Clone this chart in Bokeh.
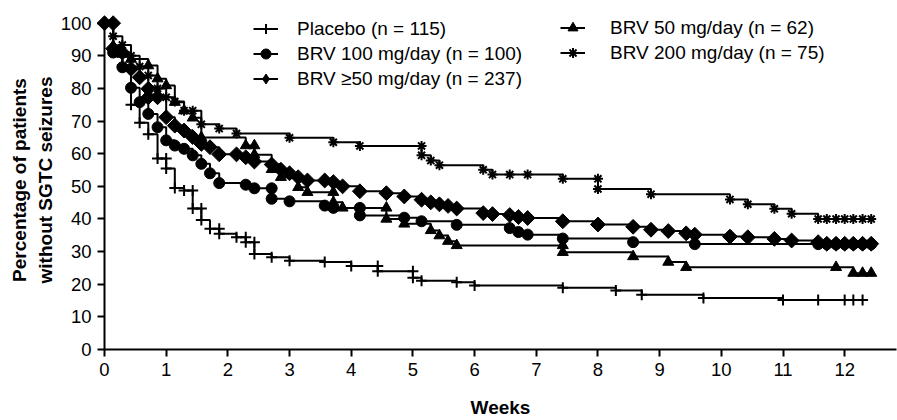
import numpy as np
from bokeh.plotting import figure
from bokeh.models import Range1d, FixedTicker, Legend, LegendItem
from bokeh.embed import file_html
from bokeh.resources import INLINE

FONT = "Liberation Sans"

# ---------------- data (weeks, % of patients without SGTC seizures) ----------------
week_ticks = list(range(0, 13))
pct_ticks = list(range(0, 101, 10))

# Placebo
plc_t = [0, 0.14, 0.29, 0.43, 0.57, 0.71, 0.86, 1.0, 1.14, 1.29, 1.43, 1.57, 1.71, 1.86,
         2.14, 2.29, 2.43, 2.71, 3.0, 3.57, 4.0, 4.43, 5.0, 5.14, 5.71, 6.0, 7.43, 8.29,
         8.71, 9.71, 11.0, 12.31]
plc_s = [100, 92, 87, 75, 69.5, 66, 58.5, 55.5, 49.5, 48.7, 43.2, 39.7, 37.0, 35.5,
         34.4, 32.9, 29.3, 28.3, 27.2, 26.8, 25.6, 24.0, 22.0, 21.1, 20.6, 19.6, 18.9, 18.1,
         16.8, 15.8, 15.2, 15.2]
plc_ct = [1.0, 1.43, 1.57, 1.86, 2.29, 2.43, 4.43, 5.0, 11.57, 12.0, 12.14, 12.29]
plc_cs = [58.5, 48.7, 43.2, 37.0, 34.4, 32.9, 25.6, 24.0, 15.2, 15.2, 15.2, 15.2]

# BRV 100 mg/day
b100_t = [0, 0.14, 0.29, 0.43, 0.57, 0.71, 0.86, 1.0, 1.14, 1.29, 1.43, 1.57, 1.71, 1.86,
          2.29, 2.43, 2.71, 3.0, 3.57, 3.71, 4.14, 4.86, 5.14, 5.71, 6.57, 6.71, 6.86, 7.43,
          8.57, 9.57, 12.43]
b100_s = [100, 91, 86.5, 80.2, 75.8, 72.2, 68.1, 64.1, 62.5, 61.5, 59.5, 56.9, 54.0, 51.0,
          50.5, 49.4, 46.2, 45.4, 44.1, 43.4, 41.1, 40.4, 39.3, 38.2, 37.2, 36.0, 35.2, 34.0,
          32.9, 32.3, 32.3]
b100_ct = [2.71, 4.14, 11.57, 11.71, 11.86, 12.0, 12.14, 12.29, 12.43]
b100_cs = [49.4, 43.4, 32.3, 32.3, 32.3, 32.3, 32.3, 32.3, 32.3]

# BRV >=50 mg/day
ball_t = [0, 0.14, 0.29, 0.43, 0.57, 0.71, 1.0, 1.14, 1.29, 1.43, 1.57, 1.71, 1.86, 2.29,
          2.43, 2.71, 2.86, 3.0, 3.14, 3.29, 3.71, 3.86, 4.14, 4.57, 4.86, 5.14, 5.29, 5.43,
          5.57, 5.71, 6.14, 6.29, 6.57, 6.71, 6.86, 7.43, 8.0, 8.57, 8.86, 9.14, 9.43, 9.57,
          10.14, 10.43, 10.86, 11.14, 11.57, 11.71, 12.43]
ball_s = [100, 92.2, 91.0, 86.0, 83.4, 77.3, 71.2, 68.6, 67.1, 65.1, 63.0, 62.0, 59.8, 58.9,
          57.6, 56.7, 55.1, 54.0, 52.8, 51.8, 51.3, 50.0, 48.5, 47.9, 46.9, 45.9, 45.1, 44.5,
          44.0, 43.2, 41.8, 41.5, 41.2, 40.6, 40.3, 39.3, 38.3, 37.6, 36.7, 36.3, 35.6, 35.2,
          34.6, 34.4, 33.9, 33.4, 32.9, 32.4, 32.4]
ball_ct = [0, 0.14, 0.71, 0.86, 2.14, 3.57, 11.86, 12.0, 12.14, 12.29, 12.43]
ball_cs = [100, 100, 79.9, 77.3, 59.8, 51.8, 32.4, 32.4, 32.4, 32.4, 32.4]

# BRV 50 mg/day
b50_t = [0, 0.14, 0.29, 0.43, 0.71, 0.86, 1.0, 1.14, 1.29, 1.43, 1.57, 2.29, 2.43, 2.71,
         2.86, 3.14, 3.29, 3.71, 3.86, 4.57, 4.86, 5.29, 5.43, 5.57, 5.71, 7.43, 8.57, 9.14,
         9.43, 12.14, 12.43]
b50_s = [100, 93, 90.5, 89, 87, 83, 80.9, 75.8, 73.2, 71, 65, 62.5, 59.7, 55.2,
         52.8, 49.7, 48.2, 45.1, 43.4, 40.0, 38.5, 36.5, 34.9, 33.2, 31.9, 29.8, 28.5, 26.8,
         25.2, 23.4, 23.4]
b50_ct = [2.43, 3.71, 4.57, 7.43, 11.86, 12.29, 12.43]
b50_cs = [62.5, 48.2, 43.4, 31.9, 25.2, 23.4, 23.4]

# BRV 200 mg/day
b200_t = [0, 0.14, 0.29, 0.43, 0.57, 0.71, 0.86, 1.0, 1.14, 1.29, 1.57, 1.86, 2.14, 3.0,
          3.71, 4.14, 5.14, 5.29, 5.43, 6.14, 6.29, 7.43, 8.0, 8.86, 10.14, 10.43, 10.86,
          11.14, 11.57, 12.43]
b200_s = [100, 96, 93.3, 90, 86.7, 84, 80, 77.3, 76, 73.2, 69.0, 67.7, 66.2, 64.9,
          63.5, 62.4, 59.5, 57.9, 56.5, 55.1, 53.6, 52.3, 49.2, 47.6, 46.0, 44.5, 43.1,
          41.6, 40.0, 40.0]
b200_ct = [1.43, 5.14, 6.57, 6.86, 8.0, 11.71, 11.86, 12.0, 12.14, 12.29, 12.43]
b200_cs = [73.2, 62.4, 53.6, 53.6, 52.3, 40.0, 40.0, 40.0, 40.0, 40.0, 40.0]

labels = ["Placebo (n = 115)", "BRV 100 mg/day (n = 100)", "BRV \u226550 mg/day (n = 237)",
          "BRV 50 mg/day (n = 62)", "BRV 200 mg/day (n = 75)"]

# ---------------- figure ----------------
p = figure(width=897, height=420, output_backend="svg", toolbar_location=None,
           x_range=Range1d(0, 12.84), y_range=Range1d(0, 103.89),
           min_border_left=104, min_border_right=1, min_border_top=10, min_border_bottom=71)
p.outline_line_color = None
p.grid.visible = False
p.background_fill_color = "white"
p.border_fill_color = "white"

p.xaxis.ticker = FixedTicker(ticks=week_ticks)
p.yaxis.ticker = FixedTicker(ticks=pct_ticks)
p.yaxis.bounds = (0, 100)
for ax in (p.xaxis[0], p.yaxis[0]):
    ax.axis_line_width = 2
    ax.axis_line_color = "black"
    ax.major_tick_line_width = 2
    ax.major_tick_line_color = "black"
    ax.major_tick_out = 7
    ax.major_tick_in = 0
    ax.minor_tick_line_color = None
    ax.major_label_text_font = FONT
    ax.major_label_text_font_size = "18.5px"
    ax.major_label_text_color = "black"
    ax.major_label_standoff = 6
    ax.axis_label_text_font = FONT
    ax.axis_label_text_font_style = "bold"
    ax.axis_label_text_font_size = "19px"
    ax.axis_label_text_color = "black"

p.xaxis.axis_label = "Weeks"
p.xaxis.axis_label_standoff = 18
p.yaxis.axis_label = "Percentage of patients\nwithout SGTC seizures"
p.yaxis.axis_label_standoff = 2

styles = [
    ("cross", dict(size=11, line_width=2, fill_color=None)),
    ("circle", dict(size=11, line_width=1, fill_color="black")),
    ("square", dict(size=10.5, line_width=1, fill_color="black", angle=np.pi / 4)),
    ("triangle", dict(size=11, line_width=1, fill_color="black")),
    ("asterisk", dict(size=10, line_width=2, fill_color=None)),
]
data = [
    (plc_t, plc_s, plc_ct, plc_cs),
    (b100_t, b100_s, b100_ct, b100_cs),
    (ball_t, ball_s, ball_ct, ball_cs),
    (b50_t, b50_s, b50_ct, b50_cs),
    (b200_t, b200_s, b200_ct, b200_cs),
]

items = []
for label, (t, s, ct, cs), (marker, st) in zip(labels, data, styles):
    ln = p.step(t, s, mode="after", line_color="black", line_width=2)
    mt = list(t[1:-1]) + list(ct)
    ms = list(s[1:-1]) + list(cs)
    sc = p.scatter(mt, ms, marker=marker, line_color="black", **st)
    ln.level = "annotation"
    sc.level = "annotation"
    leg_r = [ln, sc]
    if marker == "square":
        # legend-only diamond symbol (no data points drawn)
        dm = p.scatter([np.nan], [np.nan], marker="diamond", size=16, line_color="black",
                       fill_color="black")
        leg_r = [ln, dm]
    items.append(LegendItem(label=label, renderers=leg_r))

leg1 = Legend(items=items[:3], location=(149, 258), label_standoff=19)
leg2 = Legend(items=items[3:], location=(456, 284), label_standoff=25)
for leg in (leg1, leg2):
    leg.glyph_width = 25
    leg.glyph_height = 25
    leg.label_height = 25
    leg.spacing = 0
    leg.padding = 0
    leg.margin = 0
    leg.border_line_color = None
    leg.background_fill_alpha = 0
    leg.label_text_font = FONT
    leg.label_text_font_size = "19px"
    leg.label_text_color = "black"
    p.add_layout(leg)

open("out.html", "w").write(file_html(p, INLINE))
